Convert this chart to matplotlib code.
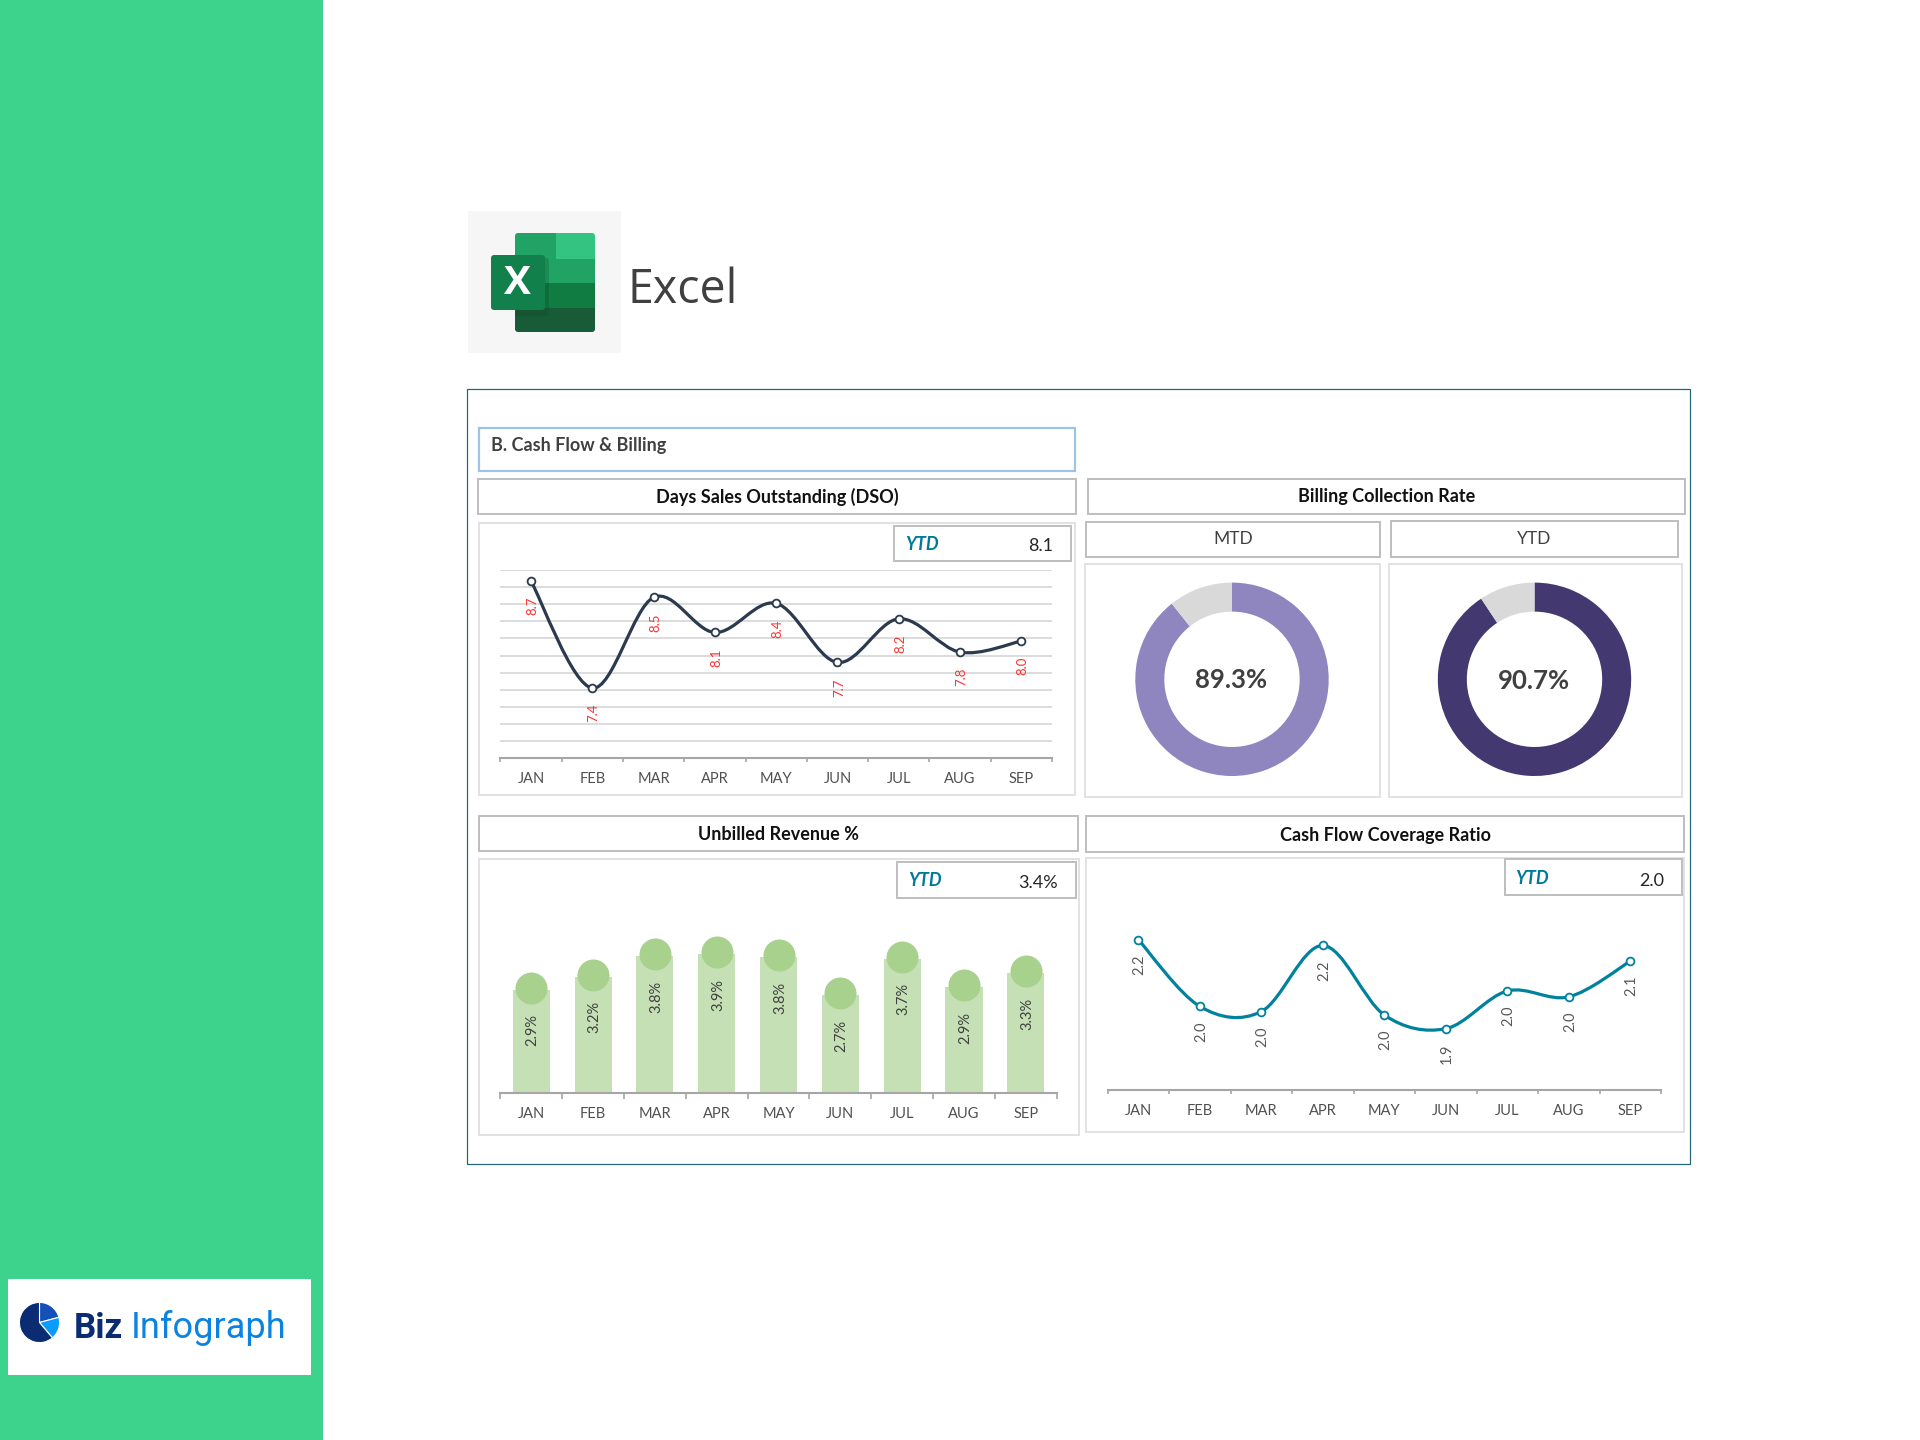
import numpy as np
import matplotlib
matplotlib.use("Agg")
import matplotlib.pyplot as plt
from matplotlib.patches import Rectangle, FancyBboxPatch, PathPatch
from matplotlib.path import Path
from matplotlib.transforms import ScaledTranslation

plt.rcParams['font.family'] = ['Lato', 'DejaVu Sans']

# ---------- data ----------
months = ["JAN", "FEB", "MAR", "APR", "MAY", "JUN", "JUL", "AUG", "SEP"]
dso = [8.67, 7.42, 8.48, 8.07, 8.41, 7.72, 8.23, 7.84, 7.97]
unbilled = [2.87, 3.23, 3.81, 3.86, 3.77, 2.72, 3.73, 2.94, 3.33]
coverage = [2.19, 1.995, 1.98, 2.173, 1.97, 1.93, 2.04, 2.023, 2.127]
mtd_rate = 89.3
ytd_rate = 90.7
ytd_dso = "8.1"
ytd_unbilled = "3.4%"
ytd_coverage = "2.0"
logo_shares = [75, 65, 220]

W, H = 1920, 1440
fig = plt.figure(figsize=(W / 100, H / 100), dpi=100, facecolor="white")
PT = 0.72  # points per pixel


def axes_px(x0, y0, x1, y1, **kw):
    return fig.add_axes([x0 / W, 1 - y1 / H, (x1 - x0) / W, (y1 - y0) / H], **kw)


bg = axes_px(0, 0, W, H)
bg.set_xlim(0, W)
bg.set_ylim(H, 0)
bg.axis("off")


def box(x0, y0, x1, y1, ec="#BFBFBF", lw=2.0, fc="white", z=1):
    bg.add_patch(Rectangle((x0, y0), x1 - x0, y1 - y0, fc=fc, ec=ec, lw=lw * PT, zorder=z))


def label(x, y, s, **kw):
    kw.setdefault("ha", "center")
    kw.setdefault("va", "center")
    kw.setdefault("zorder", 5)
    bg.text(x, y, s, **kw)


# ---------- sidebar ----------
box(0, 0, 323, H, ec="none", lw=0, fc="#3DD38D")
box(8, 1279, 311, 1375, ec="none", lw=0, fc="white", z=2)
logo = axes_px(19, 1302, 60, 1343)
logo.pie(logo_shares, startangle=90, counterclock=False,
         colors=["#1450B8", "#0A9BFF", "#0B2C73"],
         wedgeprops=dict(edgecolor="white", linewidth=0.8), radius=1.0)
logo.set_xlim(-1.02, 1.02)
logo.set_ylim(-1.02, 1.02)
label(74, 1338, "Biz", ha="left", va="baseline", color="#0B2C73", fontsize=25, fontweight="bold",
      family="Roboto")
label(131, 1338, "Infograph", ha="left", va="baseline", color="#0A84E0", fontsize=26,
      family="Roboto")

# ---------- Excel logo ----------
box(468, 211, 621, 353, ec="none", lw=0, fc="#F6F6F6")
icon_clip = FancyBboxPatch((515, 233), 80, 99, boxstyle="round,pad=0,rounding_size=3",
                           fc="none", ec="none", transform=bg.transData)
bg.add_patch(icon_clip)
rows = [(233, 258.7, "#21A366", "#33C481"), (258.7, 283, "#21A366", "#21A366"),
        (283, 307.5, "#107C41", "#107C41"), (307.5, 332, "#185C37", "#185C37")]
for y0, y1, cl, cr in rows:
    for x0, x1, c in ((515, 556, cl), (556, 595, cr)):
        r = Rectangle((x0, y0), x1 - x0, y1 - y0, fc=c, ec="none", zorder=2)
        bg.add_patch(r)
        r.set_clip_path(icon_clip)
shadow = FancyBboxPatch((515, 258), 34, 58, boxstyle="round,pad=0,rounding_size=3",
                        fc="#0B3D24", ec="none", alpha=0.22, zorder=3)
bg.add_patch(shadow)
bg.add_patch(FancyBboxPatch((491, 255), 54, 55, boxstyle="round,pad=0,rounding_size=3",
                            fc="#12804A", ec="none", zorder=3))
label(517.7, 283, "X", color="white", fontsize=29, fontweight="bold", family="Open Sans")
label(627, 303, "Excel", ha="left", va="baseline", color="#404040", fontsize=33.5, family="Open Sans")

# ---------- frame and boxes ----------
box(467, 388.5, 1690, 1163.5, ec="#1F6477", lw=1.2)
box(479, 427.5, 1075, 470.5, ec="#9DC3E6", lw=2.2, z=2)
label(491, 445.5, "B. Cash Flow & Billing", ha="left", color="#404040", fontsize=13, fontweight="bold")

TITLE = dict(color="#111111", fontsize=13, fontweight="bold")
YTD_T = dict(ha="left", color="#00789A", fontsize=13, fontweight="bold", style="italic")
VAL_T = dict(ha="right", color="#262626", fontsize=13)


def title(x0, y0, x1, y1, s, ty):
    box(x0, y0, x1, y1, z=2)
    label((x0 + x1) / 2, ty, s, **TITLE)


def panel(x0, y0, x1, y1):
    box(x0, y0, x1, y1, ec="#E2E2E2", lw=2, z=2)


def ytd(x0, y0, x1, y1, tx, ty, vx, vy, val):
    box(x0, y0, x1, y1, z=3)
    label(tx, ty, "YTD", **YTD_T)
    label(vx, vy, val, **VAL_T)


title(478, 478.5, 1076, 514, "Days Sales Outstanding (DSO)", 496.5)
panel(479, 522.5, 1075, 795)
ytd(894, 526, 1071, 561, 905.5, 545, 1053, 546, ytd_dso)

title(1088, 478.5, 1685, 514, "Billing Collection Rate", 496.5)
box(1086, 522, 1380, 556.5, z=2)
box(1391, 520.5, 1678, 556.5, z=2)
label(1233, 539.5, "MTD", color="#404040", fontsize=12.5)
label(1534, 539.5, "YTD", color="#404040", fontsize=12.5)
panel(1085, 564, 1380, 797)
panel(1389, 564, 1682, 797)

title(479, 816, 1078, 851, "Unbilled Revenue %", 835)
panel(479, 859, 1079, 1135)
ytd(897, 861.5, 1076, 898, 908.5, 880, 1058, 882.5, ytd_unbilled)

title(1086, 816, 1684, 852, "Cash Flow Coverage Ratio", 835)
panel(1086, 857.5, 1684, 1132)
ytd(1505, 859, 1682, 895, 1515.5, 878.5, 1664, 880.5, ytd_coverage)


# ---------- chart helpers ----------
def smooth_path(xs, ys):
    """Excel-style smoothed line through the points, as cubic Bezier segments."""
    xs, ys = np.asarray(xs, float), np.asarray(ys, float)
    n = len(xs)
    verts, codes = [(xs[0], ys[0])], [Path.MOVETO]
    for i in range(n - 1):
        a, b = max(i - 1, 0), min(i + 2, n - 1)
        verts.append((xs[i] + (xs[i + 1] - xs[a]) / 6, ys[i] + (ys[i + 1] - ys[a]) / 6))
        verts.append((xs[i + 1] - (xs[b] - xs[i]) / 6, ys[i + 1] - (ys[b] - ys[i]) / 6))
        verts.append((xs[i + 1], ys[i + 1]))
        codes += [Path.CURVE4] * 3
    return Path(verts, codes)


def style_axis(ax, tick_px, pad_px):
    ax.patch.set_alpha(0)
    for s in ("top", "left", "right"):
        ax.spines[s].set_visible(False)
    ax.spines["bottom"].set_color("#A6A6A6")
    ax.spines["bottom"].set_linewidth(1.5)
    ax.set_xlim(-0.5, len(months) - 0.5)
    ax.set_xticks(range(len(months)), months)
    ax.set_xticks(np.arange(-0.5, len(months)), minor=True)
    ax.tick_params(axis="x", which="major", length=0, pad=pad_px * PT, labelsize=10.5, labelcolor="#505050")
    ax.tick_params(axis="x", which="minor", length=tick_px * PT, width=1.2, color="#A6A6A6")
    ax.tick_params(axis="y", length=0, labelleft=False)


def line_chart(ax, values, color, label_color, fs, lw):
    x = np.arange(len(values))
    ax.add_patch(PathPatch(smooth_path(x, values), fc="none", ec=color, lw=lw, zorder=3, clip_on=False))
    ax.plot(x, values, ls="none", marker="o", ms=5.6, mfc="white", mec=color, mew=1.3, zorder=4, clip_on=False)
    for xi, v in zip(x, values):
        ax.annotate(f"{v:.1f}", (xi, v), xytext=(1, -25 * PT), textcoords="offset points",
                    rotation=90, ha="center", va="center", color=label_color, fontsize=fs)


# ---------- DSO ----------
ax = axes_px(500.4, 570, 1052, 758.3)
style_axis(ax, 4.4, 14)
ax.set_ylim(6.6, 8.8)
ax.set_yticks(np.arange(6.6, 8.81, 0.2))
ax.grid(axis="y", color="#D9D9D9", lw=1.3)
ax.set_axisbelow(True)
line_chart(ax, dso, "#2B3A4E", "#FF3030", 9.5, 2.3)

# ---------- Unbilled ----------
ax = axes_px(500.4, 931, 1056.7, 1093)
style_axis(ax, 6, 14)
ax.set_ylim(0, 4.5)
ax.set_yticks([])
x = np.arange(len(unbilled))
ax.bar(x, unbilled, width=0.6, color="#C5E0B4", zorder=2)
raised = ax.transData + ScaledTranslation(0, 2.0 * PT / 72, fig.dpi_scale_trans)
ax.plot(x, unbilled, ls="none", marker="o", ms=32 * PT, mfc="#A9D18E", mec="none", zorder=3,
        clip_on=False, transform=raised)
for xi, v in zip(x, unbilled):
    ax.annotate(f"{v:.1f}%", (xi, v), xytext=(1, -40.7 * PT), textcoords="offset points",
                rotation=90, ha="center", va="center", color="#404040", fontsize=10.5)

# ---------- Coverage ----------
ax = axes_px(1107.6, 902, 1661, 1090.3)
style_axis(ax, 4.4, 14)
ax.set_ylim(1.75, 2.30)
ax.set_yticks([])
line_chart(ax, coverage, "#00829F", "#595959", 10.5, 2.3)


# ---------- donuts ----------
def donut(cx, cy, rate, color, ty):
    r = 96.7
    a = axes_px(cx - r, cy - r, cx + r, cy + r)
    a.pie([rate, 100 - rate], startangle=90, counterclock=False, colors=[color, "#D9D9D9"],
          radius=1.0, wedgeprops=dict(width=0.30, linewidth=0))
    a.set_xlim(-1, 1)
    a.set_ylim(-1, 1)
    a.text(-0.01, ty, f"{rate:.1f}%", ha="center", va="center", color="#404040", fontsize=18.5, fontweight="bold")


donut(1232, 679.3, mtd_rate, "#8F86BF", -0.01)
donut(1534.5, 679.3, ytd_rate, "#433870", -0.02)

fig.savefig("out.png", dpi=100, facecolor="white")
